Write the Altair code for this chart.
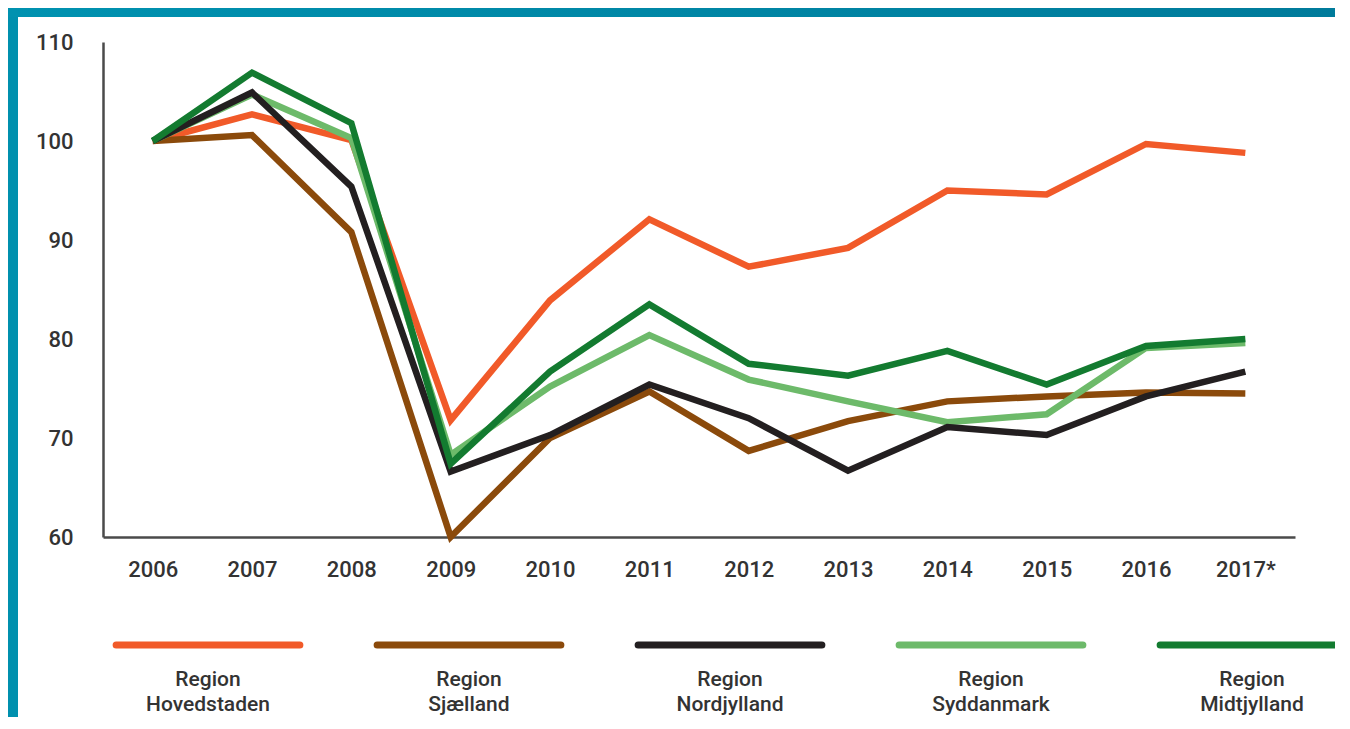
import altair as alt
import pandas as pd

years = ["2006", "2007", "2008", "2009", "2010", "2011", "2012", "2013", "2014", "2015", "2016", "2017*"]
regions = ["Region Hovedstaden", "Region Sjælland", "Region Nordjylland", "Region Syddanmark", "Region Midtjylland"]
colors = ["#F15A29", "#8B4A0B", "#231F20", "#6DBA6A", "#137B30"]

hovedstaden = [100, 102.7, 100.1, 71.8, 83.9, 92.1, 87.3, 89.2, 95.0, 94.6, 99.7, 98.8]
sjaelland = [100, 100.6, 90.8, 60.0, 70.0, 74.7, 68.7, 71.7, 73.7, 74.2, 74.6, 74.5]
nordjylland = [100, 104.9, 95.4, 66.6, 70.3, 75.4, 72.0, 66.7, 71.1, 70.3, 74.2, 76.7]
syddanmark = [100, 104.7, 100.3, 68.3, 75.2, 80.4, 75.9, 73.7, 71.6, 72.4, 79.1, 79.6]
midtjylland = [100, 106.9, 101.8, 67.4, 76.7, 83.5, 77.5, 76.3, 78.8, 75.4, 79.3, 80.0]

series = {
    "Region Hovedstaden": hovedstaden,
    "Region Sjælland": sjaelland,
    "Region Nordjylland": nordjylland,
    "Region Syddanmark": syddanmark,
    "Region Midtjylland": midtjylland,
}
y_ticks = [60, 70, 80, 90, 100, 110]
draw_order = ["Region Hovedstaden", "Region Sjælland", "Region Syddanmark", "Region Nordjylland", "Region Midtjylland"]

W, H = 1192, 495
PAD = {"left": 95, "top": 34, "right": 40, "bottom": 180}
FONT = "Roboto"
WEIGHT = 500
TXT = "#333333"

x_enc = alt.X("year:O", sort=years, scale=alt.Scale(type="point", padding=0.5, domain=years),
              axis=alt.Axis(title=None, labelAngle=0, ticks=False, labelPadding=22,
                            labelFontSize=22, labelFont=FONT, labelFontWeight=WEIGHT, labelColor=TXT,
                            domainColor="#4a4a4a", domainWidth=2.5, grid=False))
y_enc = alt.Y("value:Q", scale=alt.Scale(domain=[60, 110], nice=False, zero=False),
              axis=alt.Axis(title=None, values=y_ticks, ticks=False, labelPadding=30,
                            labelFontSize=22, labelFont=FONT, labelFontWeight=WEIGHT, labelColor=TXT,
                            domainColor="#4a4a4a", domainWidth=2.5, grid=False))

line_layers = []
for i, name in enumerate(draw_order):
    df = pd.DataFrame({"year": years, "value": series[name], "region": name})
    c = colors[regions.index(name)]
    if i == 0:
        enc = dict(x=x_enc, y=y_enc)
    else:
        enc = dict(x=alt.X("year:O", sort=years), y=alt.Y("value:Q"))
    line_layers.append(
        alt.Chart(df).mark_line(color=c, strokeWidth=6.5, strokeJoin="miter").encode(**enc)
    )
lines = alt.layer(*line_layers)

leg_df = pd.DataFrame({"region": regions, "idx": list(range(len(regions))), "color": colors})
leg_x = alt.Scale(domain=[0, len(regions) - 1], range=[105, 1149])
legend_lines = alt.Chart(leg_df).transform_calculate(
    a="datum.idx - 0.352", b="datum.idx + 0.352"
).mark_rule(strokeWidth=7, strokeCap="round").encode(
    x=alt.X("a:Q", scale=leg_x, axis=None),
    x2="b:Q",
    y=alt.value(603),
    color=alt.Color("color:N", scale=None),
)
legend_text = alt.Chart(leg_df).mark_text(
    lineBreak=" ", fontSize=21, font=FONT, fontWeight=WEIGHT, color=TXT, baseline="alphabetic",
    align="center", lineHeight=25
).encode(
    x=alt.X("idx:Q", scale=leg_x, axis=None),
    y=alt.value(644),
    text="region:N",
)
legend = alt.layer(legend_lines, legend_text)

dummy = alt.Data(values=[{"k": 1}])
teal_grad = alt.Gradient(
    gradient="linear",
    stops=[alt.GradientStop(color="#0092B0", offset=0), alt.GradientStop(color="#007B9B", offset=1)],
    x1=0, x2=1, y1=0, y2=0,
)
left_strip = alt.Chart(dummy).mark_rect(color="#0090AE").encode(
    x=alt.value(-PAD["left"]), x2=alt.value(-PAD["left"] + 10),
    y=alt.value(-PAD["top"]), y2=alt.value(H + PAD["bottom"]),
)
top_strip = alt.Chart(dummy).mark_rect(color=teal_grad).encode(
    x=alt.value(-PAD["left"]), x2=alt.value(W + PAD["right"]),
    y=alt.value(-PAD["top"]), y2=alt.value(-PAD["top"] + 9),
)

chart = alt.layer(lines, legend, left_strip, top_strip).resolve_scale(
    x="independent", y="independent"
).properties(
    width=W, height=H,
    autosize=alt.AutoSizeParams(type="none"),
    padding=PAD,
    background="white",
).configure_view(stroke=None)

chart.save("out.html", embed_options={"renderer": "svg", "actions": False})
